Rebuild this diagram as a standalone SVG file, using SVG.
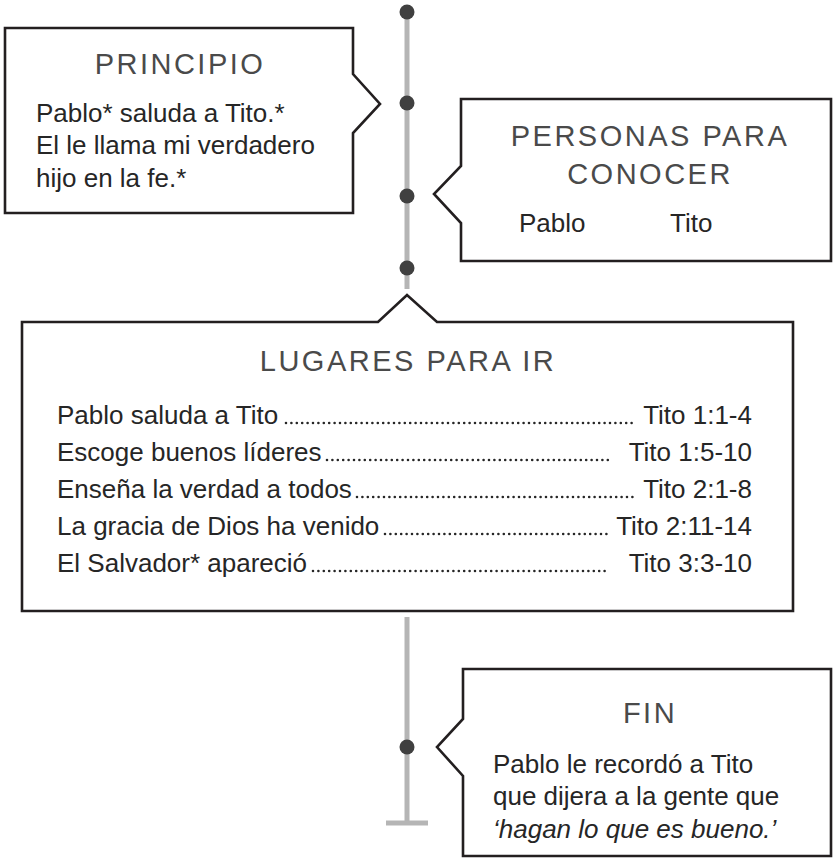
<svg xmlns="http://www.w3.org/2000/svg" width="835" height="858" viewBox="0 0 835 858">
<style>
.box{fill:#ffffff;stroke:#231f20;stroke-width:2.6;stroke-linejoin:miter}
.title{font-family:"Liberation Sans",Arial,sans-serif;font-size:29px;letter-spacing:2.5px;fill:#4a4a4a;text-anchor:middle}
.body{font-family:"Liberation Sans",Arial,sans-serif;font-size:26px;fill:#262626}
.ref{text-anchor:end}
.lead{stroke:#262626;stroke-width:2.6;stroke-linecap:round;stroke-dasharray:0 5.4}
.tl{stroke:#b5b5b5;stroke-width:5;fill:none}
.dot{fill:#404040}
</style>
<rect width="835" height="858" fill="#ffffff"/>
<g id="connectors">
<line class="tl" x1="407" y1="12" x2="407" y2="289"/>
<line class="tl" x1="407" y1="617" x2="407" y2="823"/>
<line class="tl" x1="386" y1="823" x2="428" y2="823"/>
<circle class="dot" cx="407" cy="12" r="7.5"/>
<circle class="dot" cx="407" cy="103" r="7.5"/>
<circle class="dot" cx="407" cy="196" r="7.5"/>
<circle class="dot" cx="407" cy="268" r="7.5"/>
<circle class="dot" cx="407" cy="747" r="7.5"/>
</g>
<g id="node-principio">
<path class="box" d="M5,28 H353 V74 L380,104 L353,133 V213 H5 Z"/>
<text class="title" x="180" y="74">PRINCIPIO</text>
<text class="body" x="36" y="122">Pablo* saluda a Tito.*</text>
<text class="body" x="36" y="154">El le llama mi verdadero</text>
<text class="body" x="36" y="187">hijo en la fe.*</text>
</g>
<g id="node-personas">
<path class="box" d="M461,99 H831 V261 H461 V223 L434,194 L461,166 Z"/>
<text class="title" x="650" y="146">PERSONAS PARA</text>
<text class="title" x="650" y="184">CONOCER</text>
<text class="body" x="519" y="232">Pablo</text>
<text class="body" x="670" y="232">Tito</text>
</g>
<g id="node-lugares">
<path class="box" d="M22,322 H378 L407,295 L437,322 H793 V611 H22 Z"/>
<text class="title" x="408" y="371">LUGARES PARA IR</text>
<text class="body" x="57" y="424">Pablo saluda a Tito</text>
<text class="body" x="57" y="461">Escoge buenos líderes</text>
<text class="body" x="57" y="498">Enseña la verdad a todos</text>
<text class="body" x="57" y="535">La gracia de Dios ha venido</text>
<text class="body" x="57" y="572">El Salvador* apareció</text>
<text class="body ref" x="752" y="424">Tito 1:1-4</text>
<text class="body ref" x="752" y="461">Tito 1:5-10</text>
<text class="body ref" x="752" y="498">Tito 2:1-8</text>
<text class="body ref" x="752" y="535">Tito 2:11-14</text>
<text class="body ref" x="752" y="572">Tito 3:3-10</text>
<line class="lead" x1="286" y1="423" x2="637" y2="423"/>
<line class="lead" x1="327" y1="460" x2="608" y2="460"/>
<line class="lead" x1="357" y1="497" x2="637" y2="497"/>
<line class="lead" x1="385" y1="534" x2="608" y2="534"/>
<line class="lead" x1="313" y1="571" x2="608" y2="571"/>
</g>
<g id="node-fin">
<path class="box" d="M463,669 H831 V856 H463 V776 L437,747 L463,719 Z"/>
<text class="title" x="650" y="723">FIN</text>
<text class="body" x="493" y="773">Pablo le recordó a Tito</text>
<text class="body" x="493" y="805">que dijera a la gente que</text>
<text class="body" x="493" y="838" font-style="italic">‘hagan lo que es bueno.’</text>
</g>
</svg>
